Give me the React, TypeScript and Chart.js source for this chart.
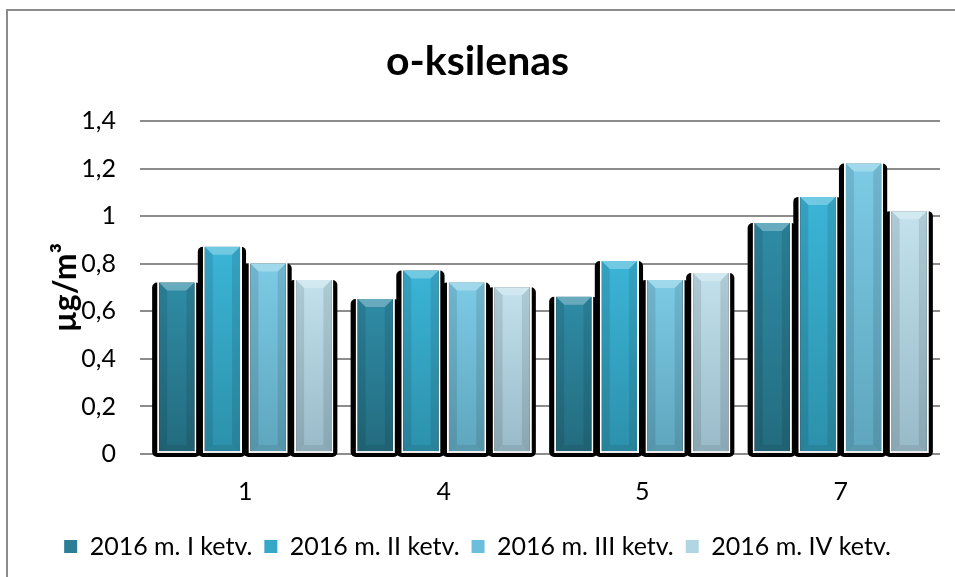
import React, { useEffect, useRef } from "react";
import { Chart, registerables } from "chart.js";

Chart.register(...registerables);

const categories = ["1", "4", "5", "7"];
const seriesLabels = ["2016 m. I ketv.", "2016 m. II ketv.", "2016 m. III ketv.", "2016 m. IV ketv."];
const q1 = [0.73, 0.66, 0.67, 0.98];
const q2 = [0.88, 0.78, 0.82, 1.09];
const q3 = [0.81, 0.73, 0.74, 1.23];
const q4 = [0.74, 0.71, 0.77, 1.03];
const seriesValues = [q1, q2, q3, q4];

const solidColors = ["#2a7f97", "#35a7c9", "#6cbfdc", "#b0d6e3"];
const topColors = ["#2f8ca6", "#3bb5d8", "#7dcbe6", "#c3e2ed"];
const bottomColors = ["#236b7e", "#2c90aa", "#5ea5bd", "#98b9c7"];

const FONT = "Lato, 'Liberation Sans', sans-serif";

const shadowPlugin = {
  id: "barShadow",
  beforeDatasetsDraw(chart: any) {
    const ctx = chart.ctx;
    ctx.save();
    ctx.fillStyle = "#000";
    chart.data.datasets.forEach((_: any, i: number) => {
      const meta = chart.getDatasetMeta(i);
      meta.data.forEach((bar: any) => {
        const left = bar.x - bar.width / 2;
        const top = bar.y + 2;
        const h = bar.base + 4 - top;
        ctx.beginPath();
        (ctx as any).roundRect(left - 5, top, bar.width + 9, h, 5);
        ctx.fill();
      });
    });
    ctx.restore();
  },
  afterDatasetsDraw(chart: any) {
    const ctx = chart.ctx;
    ctx.save();
    chart.data.datasets.forEach((_: any, i: number) => {
      const meta = chart.getDatasetMeta(i);
      meta.data.forEach((bar: any) => {
        const b = 2;
        const left = bar.x - bar.width / 2 + b;
        const right = bar.x + bar.width / 2 - b;
        const top = bar.y + b;
        const base = bar.base;
        const d = 8;
        ctx.fillStyle = "rgba(255,255,255,0.28)";
        ctx.beginPath();
        ctx.moveTo(left, top);
        ctx.lineTo(right, top);
        ctx.lineTo(right - d, top + d);
        ctx.lineTo(left + d, top + d);
        ctx.closePath();
        ctx.fill();
        ctx.fillStyle = "rgba(0,0,0,0.10)";
        ctx.beginPath();
        ctx.moveTo(left, top);
        ctx.lineTo(left + d, top + d);
        ctx.lineTo(left + d, base - d);
        ctx.lineTo(left, base);
        ctx.closePath();
        ctx.fill();
        ctx.beginPath();
        ctx.moveTo(right, top);
        ctx.lineTo(right - d, top + d);
        ctx.lineTo(right - d, base - d);
        ctx.lineTo(right, base);
        ctx.closePath();
        ctx.fill();
        ctx.fillStyle = "rgba(0,0,0,0.08)";
        ctx.beginPath();
        ctx.moveTo(left, base);
        ctx.lineTo(left + d, base - d);
        ctx.lineTo(right - d, base - d);
        ctx.lineTo(right, base);
        ctx.closePath();
        ctx.fill();
      });
    });
    ctx.restore();
  },
};

function formatTick(v: number): string {
  return String(Number(v.toFixed(1))).replace(".", ",");
}

export default function App() {
  const ref = useRef<HTMLCanvasElement>(null);

  useEffect(() => {
    if (!ref.current) return;
    const chart = new Chart(ref.current, {
      type: "bar",
      data: {
        labels: categories,
        datasets: seriesValues.map((vals, i) => ({
          label: seriesLabels[i],
          data: vals,
          backgroundColor: (c: any) => {
            const ch = c.chart;
            if (c.type !== "data" || !ch.chartArea || !ch.scales.y) return solidColors[i];
            const y0 = ch.scales.y.getPixelForValue(c.raw);
            const yb = ch.scales.y.getPixelForValue(0);
            const g = ch.ctx.createLinearGradient(0, y0, 0, yb);
            g.addColorStop(0, topColors[i]);
            g.addColorStop(1, bottomColors[i]);
            return g;
          },
          borderColor: "#ffffff",
          borderWidth: 2,
          borderSkipped: false,
          categoryPercentage: 0.92,
          barPercentage: 0.86,
        })),
      },
      options: {
        responsive: true,
        maintainAspectRatio: false,
        animation: false,
        layout: { padding: { left: 15, right: 15, top: 0, bottom: 8 } },
        plugins: {
          title: {
            display: true,
            text: "o-ksilenas",
            color: "#000",
            font: { family: FONT, size: 41, weight: "bold" },
            padding: { top: 37, bottom: 35 },
          },
          legend: {
            position: "bottom",
            labels: {
              color: "#000",
              font: { family: FONT, size: 25 },
              boxWidth: 13,
              boxHeight: 13,
              padding: 12,
              generateLabels: () =>
                seriesLabels.map((t, i) => ({
                  text: t,
                  fillStyle: solidColors[i],
                  strokeStyle: solidColors[i],
                  lineWidth: 0,
                  datasetIndex: i,
                  hidden: false,
                })),
            },
          },
          tooltip: { enabled: false },
        },
        scales: {
          x: {
            grid: { display: false },
            border: { display: false },
            ticks: { color: "#000", font: { family: FONT, size: 25 }, padding: 15 },
          },
          y: {
            min: 0,
            max: 1.4,
            ticks: {
              stepSize: 0.2,
              color: "#000",
              font: { family: FONT, size: 25 },
              padding: 24,
              callback: (v: any) => formatTick(Number(v)),
            },
            grid: { color: "#8c8c8c", lineWidth: 2, tickLength: 6 },
            border: { display: false },
            title: {
              display: true,
              text: "µg/m³",
              color: "#000",
              font: { family: FONT, size: 32, weight: "bold" },
              padding: { top: 31, bottom: 0 },
            },
            afterFit: (s: any) => {
              s.width = 131;
            },
          },
        },
      },
      plugins: [shadowPlugin],
    } as any);
    return () => chart.destroy();
  }, []);

  return (
    <div style={{ position: "fixed", left: 0, top: 0, width: 955, height: 577, background: "#fff" }}>
      <div
        style={{
          position: "absolute",
          left: 6,
          top: 9,
          right: -10,
          bottom: -10,
          borderLeft: "2px solid #8c8c8c",
          borderTop: "2px solid #8c8c8c",
        }}
      />
      <canvas ref={ref} style={{ position: "absolute", left: 0, top: 0, width: 955, height: 577 }} />
    </div>
  );
}
